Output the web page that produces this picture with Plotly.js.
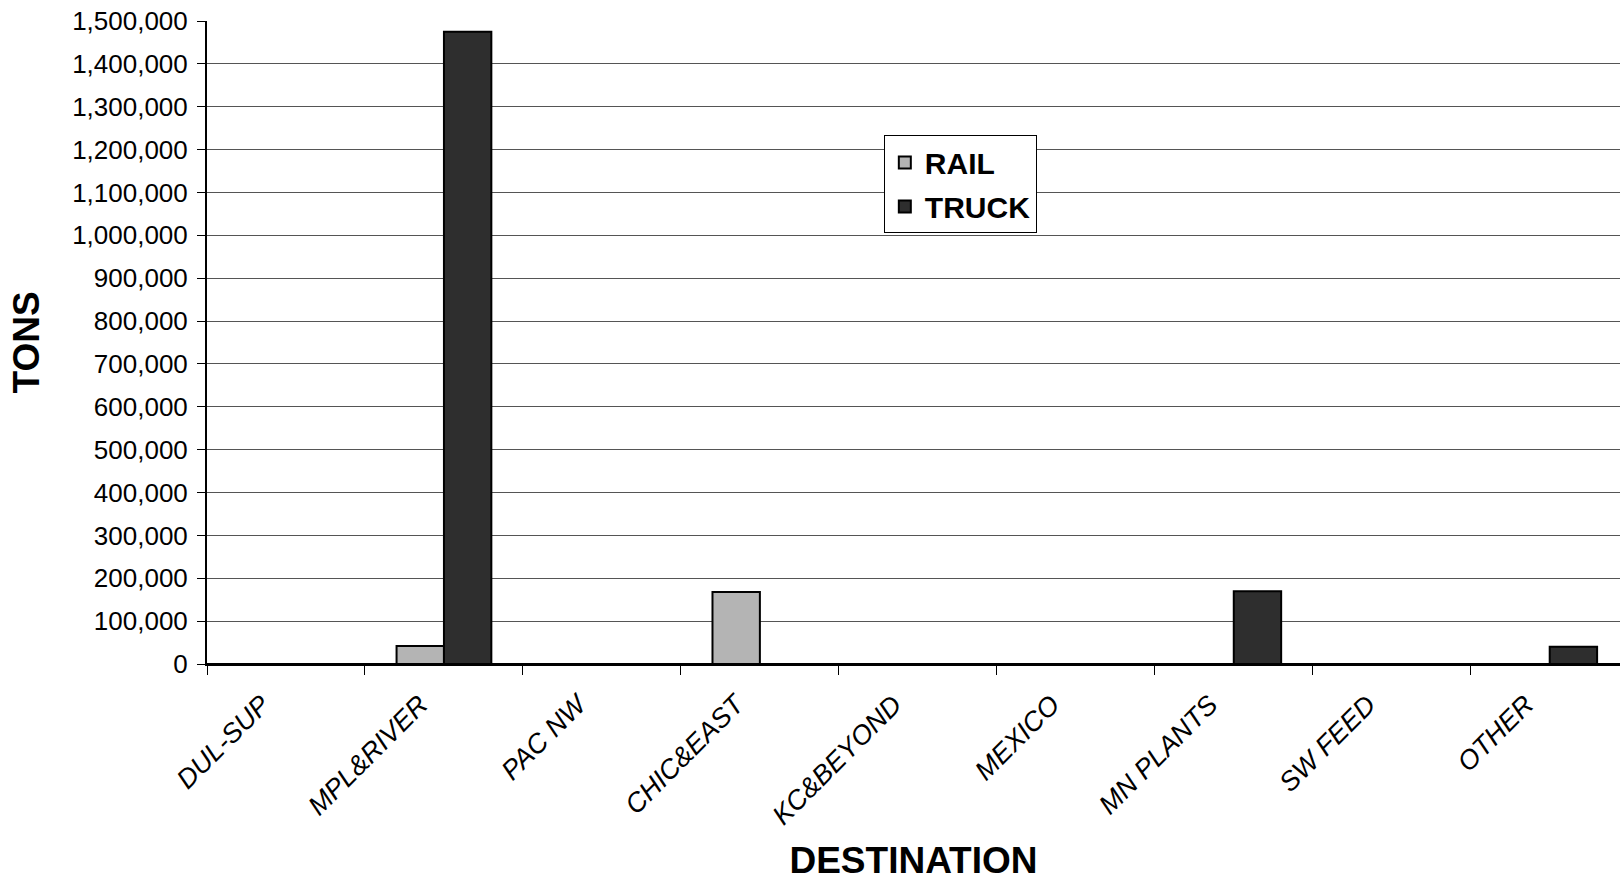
<!DOCTYPE html>
<html>
<head>
<meta charset="utf-8">
<script src="https://cdn.plot.ly/plotly-3.0.1.min.js"></script>
<style>
html,body{margin:0;padding:0;background:#fff;overflow:hidden;}
#chart{width:1620px;height:881px;}
</style>
</head>
<body>
<div id="chart"></div>
<script>
const categories = ["DUL-SUP","MPL&RIVER","PAC NW","CHIC&EAST","KC&BEYOND","MEXICO","MN PLANTS","SW FEED","OTHER"];
const railTons  = [0, 42000, 0, 168000, 0, 0, 0, 0, 0];
const truckTons = [0, 1475000, 0, 0, 0, 0, 170000, 0, 40000];
const seriesNames = ["RAIL","TRUCK"];
const yTickVals = [0,100000,200000,300000,400000,500000,600000,700000,800000,900000,1000000,1100000,1200000,1300000,1400000,1500000];

const FONT = "Liberation Sans, Arial, sans-serif";

const traces = [
  {type:"bar", name:seriesNames[0], legendgroup:"g1", x:categories, y:railTons,
   marker:{color:"#b4b4b4", line:{color:"#000", width:2}}},
  {type:"bar", name:seriesNames[1], legendgroup:"g2", x:categories, y:truckTons,
   marker:{color:"#2e2e2e", line:{color:"#000", width:2}}}
];

const layout = {
  width:1620, height:881,
  paper_bgcolor:"#fff", plot_bgcolor:"#fff",
  margin:{l:207, r:0, t:21, b:217, autoexpand:false},
  font:{family:FONT, color:"#000"},
  barmode:"group", bargap:0.4, bargroupgap:0,
  showlegend:true,
  legend:{x:0.479, y:0.822, xanchor:"left", yanchor:"top",
          bgcolor:"#fff", bordercolor:"#000", borderwidth:1,
          font:{family:FONT, size:30, color:"#000", weight:"bold"},
          itemsizing:"constant", tracegroupgap:2},
  xaxis:{type:"category", range:[-0.5, 8.445], tickson:"boundaries",
         ticks:"outside", ticklen:9, tickcolor:"#000", tickwidth:1,
         showline:true, linecolor:"#000", linewidth:2,
         showgrid:false, tickangle:-45,
         ticklabelstandoff:12, ticklabelshift:-24,
         tickfont:{family:FONT, size:27, style:"italic", color:"#000"},
         title:{text:"DESTINATION", font:{family:FONT, size:37, weight:"bold", color:"#000"}, standoff:18},
         automargin:false, fixedrange:true},
  yaxis:{range:[0,1500000], tickvals:yTickVals, tickformat:",d",
         ticks:"outside", ticklen:8, tickcolor:"#000", tickwidth:1,
         showline:true, linecolor:"#000", linewidth:2,
         showgrid:true, gridcolor:"#555", gridwidth:1,
         zeroline:true, zerolinecolor:"#000", zerolinewidth:2,
         tickfont:{family:FONT, size:26, color:"#000"},
         ticklabelstandoff:4,
         title:{text:"TONS", font:{family:FONT, size:37, weight:"bold", color:"#000"}, standoff:21},
         automargin:false, fixedrange:true}
};

Plotly.newPlot("chart", traces, layout, {displayModeBar:false, staticPlot:true});
</script>
</body>
</html>
